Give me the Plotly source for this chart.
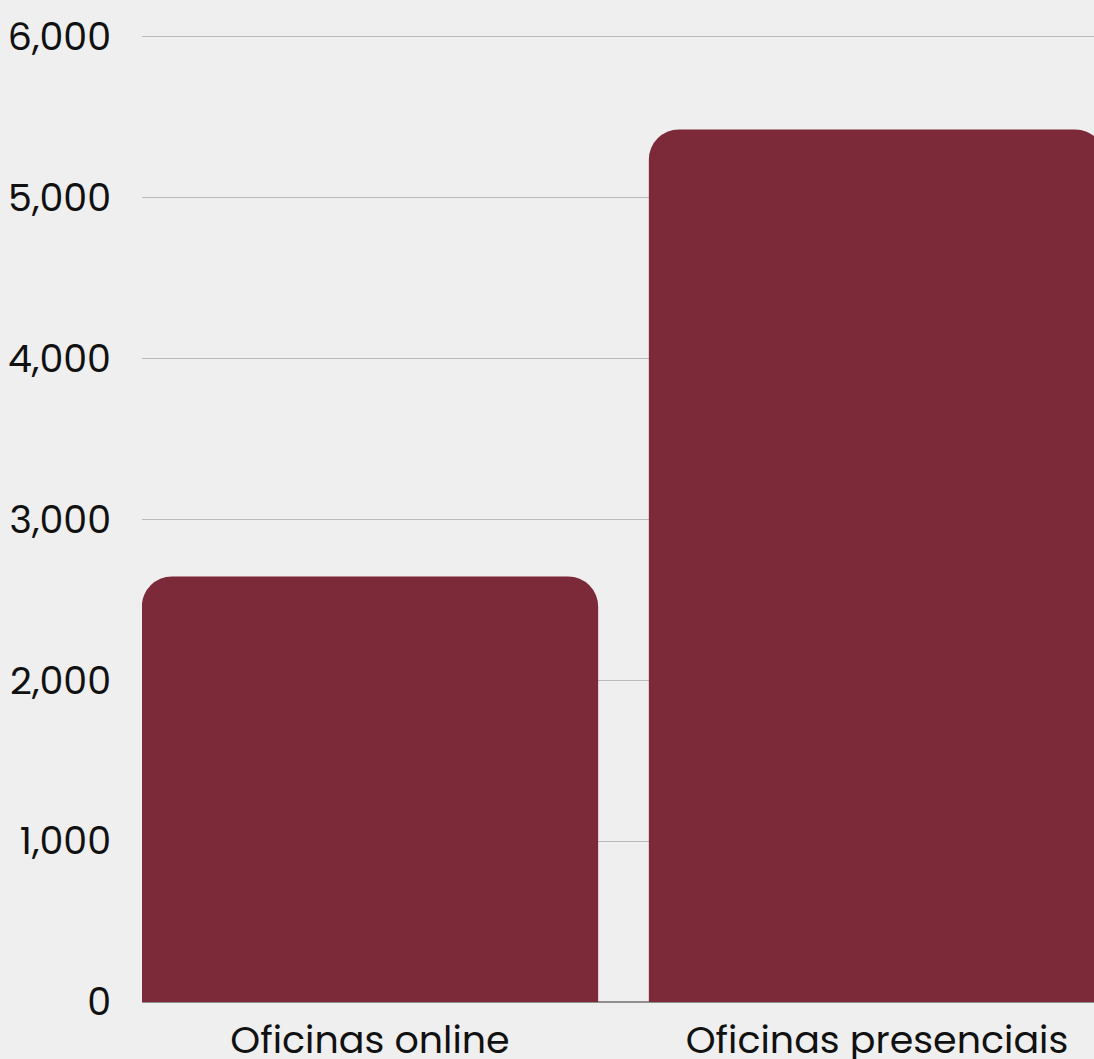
import plotly.graph_objects as go

# Workshop participation by format
categories = ["Oficinas online", "Oficinas presenciais"]
values = [2645, 5425]
y_ticks = [0, 1000, 2000, 3000, 4000, 5000, 6000]
y_tick_labels = ["0", "1,000", "2,000", "3,000", "4,000", "5,000", "6,000"]

BAR_COLOR = "#7c2939"
BG = "#efefef"
FONT = "Poppins, Inter, sans-serif"

fig = go.Figure(
    go.Bar(
        x=categories,
        y=values,
        marker=dict(color=BAR_COLOR, cornerradius=30, line=dict(width=0)),
        hoverinfo="x+y",
    )
)

fig.update_layout(
    width=1094,
    height=1059,
    margin=dict(l=142, r=0, t=34, b=57, autoexpand=False),
    paper_bgcolor=BG,
    plot_bgcolor=BG,
    bargap=0.1,
    showlegend=False,
    font=dict(family=FONT, size=38, color="#111111"),
)

fig.update_xaxes(
    range=[-0.4497, 1.428],
    showgrid=False,
    showline=False,
    zeroline=False,
    ticks="",
    ticklabelstandoff=12,
    tickfont=dict(size=38),
    automargin=False,
)

# a little headroom above 6,000 so the top gridline stays visible
fig.update_yaxes(
    range=[0, 6018],
    tickvals=y_ticks,
    ticktext=y_tick_labels,
    showgrid=True,
    gridcolor="#bbbbbb",
    gridwidth=1,
    zeroline=True,
    zerolinecolor="#8f8f8f",
    zerolinewidth=1.5,
    showline=False,
    ticks="",
    ticklabelstandoff=30,
    tickfont=dict(size=38),
    automargin=False,
)

fig.write_html("out.html")
